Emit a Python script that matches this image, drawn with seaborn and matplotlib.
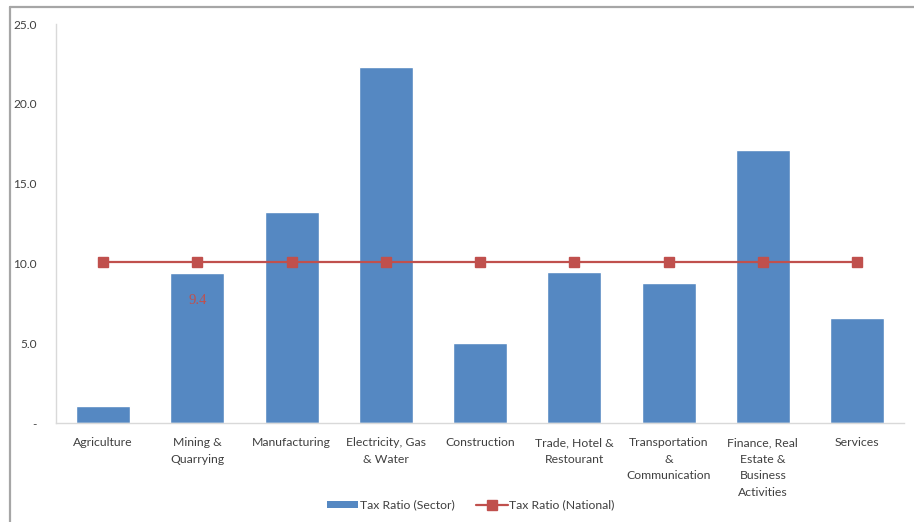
import numpy as np
import pandas as pd
import matplotlib
matplotlib.use("Agg")
import matplotlib.pyplot as plt
from matplotlib.lines import Line2D
from matplotlib.patches import Patch
import seaborn as sns

categories = ["Agriculture", "Mining &\nQuarrying", "Manufacturing", "Electricity, Gas\n& Water",
              "Construction", "Trade, Hotel &\nRestourant", "Transportation\n&\nCommunication",
              "Finance, Real\nEstate &\nBusiness\nActivities", "Services"]
sector_ratio = [1.1, 9.4, 13.2, 22.3, 5.0, 9.5, 8.8, 17.1, 6.6]
national_ratio = [10.1] * 9
y_ticks = [0, 5, 10, 15, 20, 25]
y_tick_labels = ["-", "5.0", "10.0", "15.0", "20.0", "25.0"]

sns.set_style("white")
plt.rcParams['font.family'] = ['Lato', 'DejaVu Sans']

BLUE = "#5588c2"
RED = "#c0504d"
TXT = "#404040"

df = pd.DataFrame({"cat": categories, "sector": sector_ratio, "national": national_ratio})

fig = plt.figure(figsize=(9.14, 5.22), dpi=100)
ax = fig.add_axes([0.0613, 0.189, 0.928, 0.765])

sns.barplot(data=df, x="cat", y="sector", color=BLUE, width=0.575, saturation=1,
            ax=ax, zorder=2)
ax.plot(np.arange(len(categories)), df["national"], color=RED, lw=1.6,
        marker="s", markersize=6.5, zorder=3)

ax.text(1, 7.7, "9.4", color=RED, ha="center", va="center", fontsize=10.5,
        family=["Liberation Serif", "DejaVu Serif"], zorder=4)

ax.set_xlim(-0.5, len(categories) - 0.5)
ax.set_ylim(0, 25)
ax.set_yticks(y_ticks)
ax.set_yticklabels(y_tick_labels)
ax.set_xlabel("")
ax.set_ylabel("")
ax.tick_params(axis="y", length=0, pad=14, labelsize=8.6, labelcolor=TXT)
ax.tick_params(axis="x", length=0, pad=10, labelsize=8.8, labelcolor=TXT)
for lbl in ax.get_xticklabels():
    lbl.set_linespacing(1.62)
    lbl.set_va("top")

for s in ["top", "right"]:
    ax.spines[s].set_visible(False)
ax.spines["left"].set_color("#d9d9d9")
ax.spines["bottom"].set_color("#d9d9d9")
ax.spines["left"].set_linewidth(1.0)
ax.spines["bottom"].set_linewidth(1.0)

handles = [Patch(facecolor=BLUE, edgecolor="none"),
           Line2D([0], [0], color=RED, lw=1.6, marker="s", markersize=6.5)]
fig.legend(handles, ["Tax Ratio (Sector)", "Tax Ratio (National)"], loc="center",
           bbox_to_anchor=(0.515, 0.032), ncol=2, frameon=False, fontsize=8.8,
           handlelength=2.6, handleheight=0.6, columnspacing=1.8, handletextpad=0.1,
           labelcolor=TXT)

# outer frame (top and left edges)
fig.add_artist(Line2D([10/914, 1], [1 - 7/522, 1 - 7/522], transform=fig.transFigure,
                      color="#a6a6a6", lw=1.6))
fig.add_artist(Line2D([10/914, 10/914], [0, 1 - 7/522], transform=fig.transFigure,
                      color="#a6a6a6", lw=1.6))

fig.savefig("out.png", dpi=100, facecolor="white")
